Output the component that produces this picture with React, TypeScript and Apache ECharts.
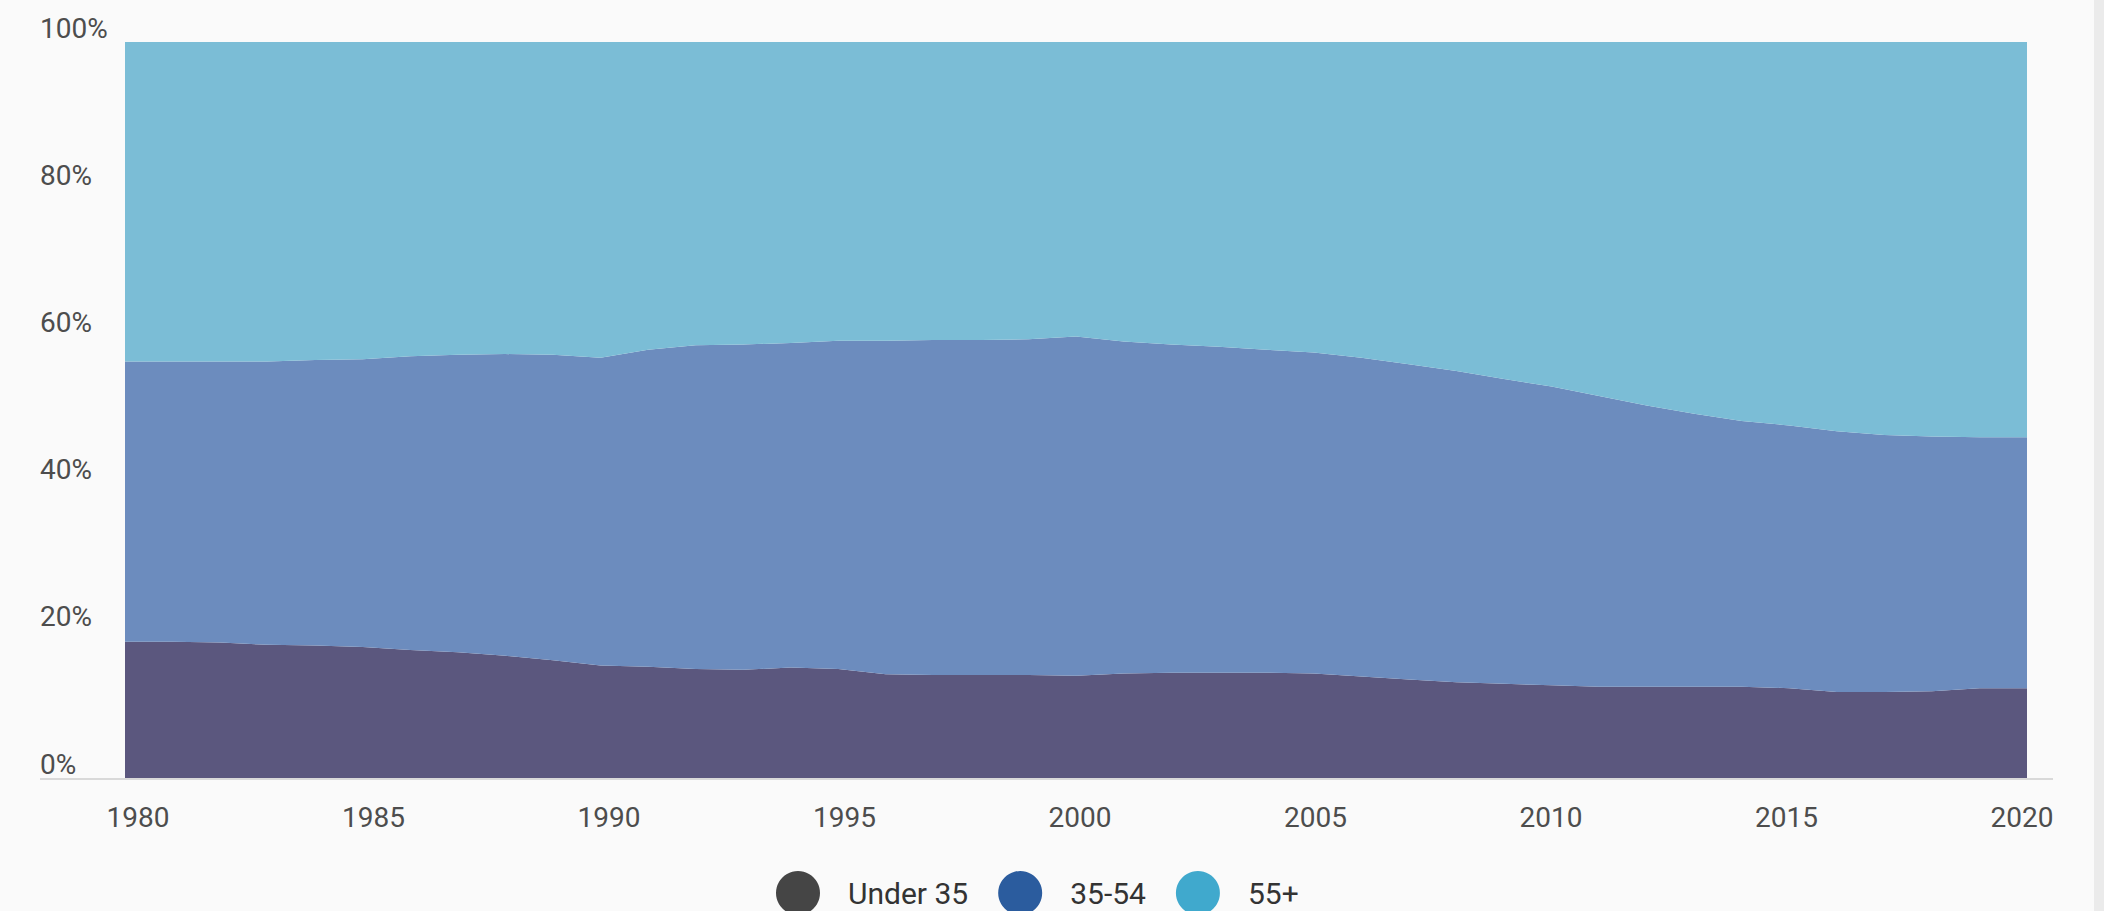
import React, { useEffect, useRef } from "react";
import * as echarts from "echarts";

const years = [
  "1980", "1981", "1982", "1983", "1984", "1985", "1986", "1987", "1988", "1989",
  "1990", "1991", "1992", "1993", "1994", "1995", "1996", "1997", "1998", "1999",
  "2000", "2001", "2002", "2003", "2004", "2005", "2006", "2007", "2008", "2009",
  "2010", "2011", "2012", "2013", "2014", "2015", "2016", "2017", "2018", "2019", "2020",
];

const under35 = [
  18.5, 18.5, 18.4, 18.1, 18.0, 17.8, 17.4, 17.1, 16.6, 16.0,
  15.3, 15.1, 14.8, 14.7, 15.0, 14.8, 14.1, 14.0, 14.0, 14.0,
  13.9, 14.2, 14.3, 14.3, 14.3, 14.2, 13.8, 13.4, 13.0, 12.8,
  12.6, 12.4, 12.4, 12.4, 12.4, 12.2, 11.7, 11.7, 11.8, 12.2, 12.2,
];

const age35to54 = [
  38.1, 38.1, 38.2, 38.5, 38.8, 39.1, 39.9, 40.4, 41.0, 41.5,
  41.8, 43.1, 44.0, 44.2, 44.1, 44.6, 45.3, 45.5, 45.5, 45.6,
  46.1, 45.1, 44.6, 44.3, 43.9, 43.6, 43.3, 42.8, 42.3, 41.4,
  40.6, 39.5, 38.2, 37.1, 36.1, 35.7, 35.4, 34.9, 34.6, 34.1, 34.1,
];

const age55plus = [
  43.4, 43.4, 43.4, 43.4, 43.2, 43.1, 42.7, 42.5, 42.4, 42.5,
  42.9, 41.8, 41.2, 41.1, 40.9, 40.6, 40.6, 40.5, 40.5, 40.4,
  40.0, 40.7, 41.1, 41.4, 41.8, 42.2, 42.9, 43.8, 44.7, 45.8,
  46.8, 48.1, 49.4, 50.5, 51.5, 52.1, 52.9, 53.4, 53.6, 53.7, 53.7,
];

const seriesNames = ["Under 35", "35-54", "55+"];
const legendColors = ["#454545", "#2b5c9e", "#40a9cd"];
const areaColors = ["#5b577e", "#6c8cbe", "#7bbdd6"];
const tickYears = [1980, 1985, 1990, 1995, 2000, 2005, 2010, 2015, 2020];
const yTicks = [0, 20, 40, 60, 80, 100];

export default function App() {
  const ref = useRef<HTMLDivElement>(null);

  useEffect(() => {
    if (!ref.current) return;
    const chart = echarts.init(ref.current, undefined, { renderer: "svg" });
    const values = [under35, age35to54, age55plus];

    chart.setOption({
      animation: false,
      backgroundColor: "#fafafa",
      textStyle: { fontFamily: "Roboto" },
      grid: { left: 125, right: 77, top: 42, bottom: 133, containLabel: false },
      xAxis: [
        {
          type: "category",
          data: years,
          boundaryGap: false,
          axisLabel: { show: false },
          axisLine: { show: false },
          axisTick: { show: false },
          splitLine: { show: false },
        },
        {
          type: "value",
          position: "bottom",
          min: 1979.724,
          max: 2020.106,
          axisLabel: {
            customValues: tickYears,
            formatter: (v: number) => String(Math.round(v)),
            margin: 25,
            fontSize: 28,
            color: "#4d4d4d",
            fontFamily: "Roboto",
          },
          axisLine: { show: false },
          axisTick: { show: false },
          splitLine: { show: false },
        },
      ],
      yAxis: {
        type: "value",
        min: yTicks[0],
        max: yTicks[yTicks.length - 1],
        interval: 20,
        axisLabel: {
          formatter: "{value}%",
          align: "left",
          verticalAlign: "bottom",
          margin: 85,
          fontSize: 28,
          color: "#4d4d4d",
          fontFamily: "Roboto",
        },
        axisLine: { show: false },
        axisTick: { show: false },
        splitLine: { show: false },
      },
      legend: {
        left: 771,
        top: 866,
        itemWidth: 44,
        itemHeight: 44,
        itemGap: 30,
        icon: "circle",
        textStyle: {
          fontSize: 30,
          color: "#333333",
          fontFamily: "Roboto",
          padding: [0, 0, 0, 23],
        },
        data: seriesNames.map((n, i) => ({
          name: n,
          icon: "circle",
          itemStyle: { color: legendColors[i] },
        })),
      },
      series: seriesNames.map((n, i) => ({
        name: n,
        type: "line",
        stack: "total",
        xAxisIndex: 0,
        data: values[i],
        symbol: "none",
        showSymbol: false,
        lineStyle: { width: 0, color: areaColors[i] },
        itemStyle: { color: legendColors[i] },
        areaStyle: { color: areaColors[i], opacity: 1 },
      })),
      graphic: [
        {
          type: "line",
          shape: { x1: 40, y1: 779, x2: 2053, y2: 779 },
          style: { stroke: "#d9d9d9", lineWidth: 2 },
          z: 10,
        },
        {
          type: "rect",
          shape: { x: 2094, y: 0, width: 10, height: 911 },
          style: { fill: "#ebebeb" },
        },
      ],
    });

    return () => chart.dispose();
  }, []);

  return (
    <div
      ref={ref}
      style={{ position: "fixed", left: 0, top: 0, width: 2104, height: 911 }}
    />
  );
}
